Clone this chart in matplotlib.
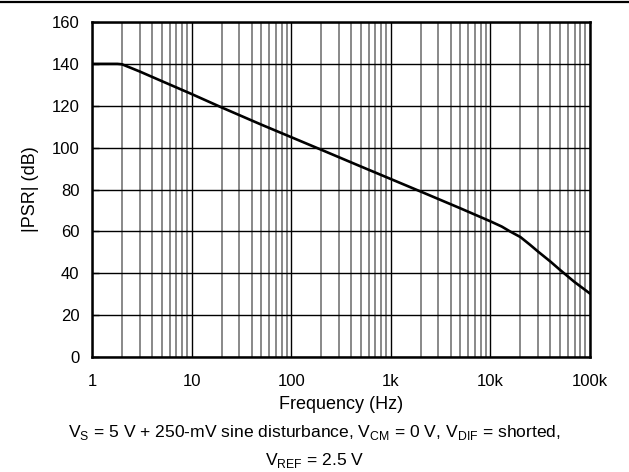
import matplotlib
matplotlib.use("Agg")
import matplotlib.pyplot as plt
from matplotlib.lines import Line2D
from matplotlib.ticker import LogLocator, FixedLocator, FixedFormatter, NullFormatter

plt.rcParams['font.family'] = ['Liberation Sans', 'DejaVu Sans']

freq = [1, 1.8, 2, 3, 5, 10, 20, 50, 100, 200, 500, 1000, 2000, 5000, 10000,
        13000, 15700, 20000, 25000, 30000, 40000, 50000, 70000, 100000]
psr = [140, 140, 139.8, 136.4, 131.8, 125.6, 119.2, 111.0, 105.0, 99.0, 91.0, 85.0, 79.0, 71.0, 64.8,
       62.3, 60.0, 57.3, 53.6, 50.4, 45.6, 41.6, 35.8, 30.3]

xticks = [1, 10, 100, 1000, 10000, 100000]
xticklabels = ['1', '10', '100', '1k', '10k', '100k']
yticks = [0, 20, 40, 60, 80, 100, 120, 140, 160]

fig = plt.figure(figsize=(6.29, 4.72), dpi=100)
ax = fig.add_axes([92/629, 1-357/472, (590-92)/629, (357-22)/472])

ax.set_xscale('log')
ax.set_xlim(1, 100000)
ax.set_ylim(0, 160)

ax.xaxis.set_major_locator(FixedLocator(xticks))
ax.xaxis.set_major_formatter(FixedFormatter(xticklabels))
ax.xaxis.set_minor_locator(LogLocator(base=10, subs=range(2, 10), numticks=20))
ax.xaxis.set_minor_formatter(NullFormatter())
ax.set_yticks(yticks)

ax.grid(True, which='major', axis='both', color='black', linewidth=1.0)
ax.grid(True, which='minor', axis='x', color='#808080', linewidth=1.3)
ax.set_axisbelow(True)

ax.plot(freq, psr, color='black', linewidth=1.9, zorder=3)

for s in ax.spines.values():
    s.set_linewidth(1.8)
    s.set_zorder(4)

ax.tick_params(axis='both', which='both', direction='in', labelsize=12, length=0)
ax.tick_params(axis='y', which='major', length=5, width=1)
ax.tick_params(axis='x', which='major', pad=12)
ax.tick_params(axis='y', which='major', pad=9)

ax.set_xlabel('Frequency (Hz)', fontsize=13, labelpad=5)
ax.set_ylabel('|PSR| (dB)', fontsize=13, labelpad=9)

fig.text(0.5, 1-436.7/472,
         r'V$_\mathregular{S}$ = 5 V + 250-mV sine disturbance, V$_\mathregular{CM}$ = 0 V, V$_\mathregular{DIF}$ = shorted,',
         ha='center', va='baseline', fontsize=12.6)
fig.text(0.5, 1-465/472, r'V$_\mathregular{REF}$ = 2.5 V',
         ha='center', va='baseline', fontsize=12.6)

fig.add_artist(Line2D([0, 1], [1-2/472, 1-2/472], transform=fig.transFigure, color='black', linewidth=1.6))

fig.savefig('out.png', dpi=100)
